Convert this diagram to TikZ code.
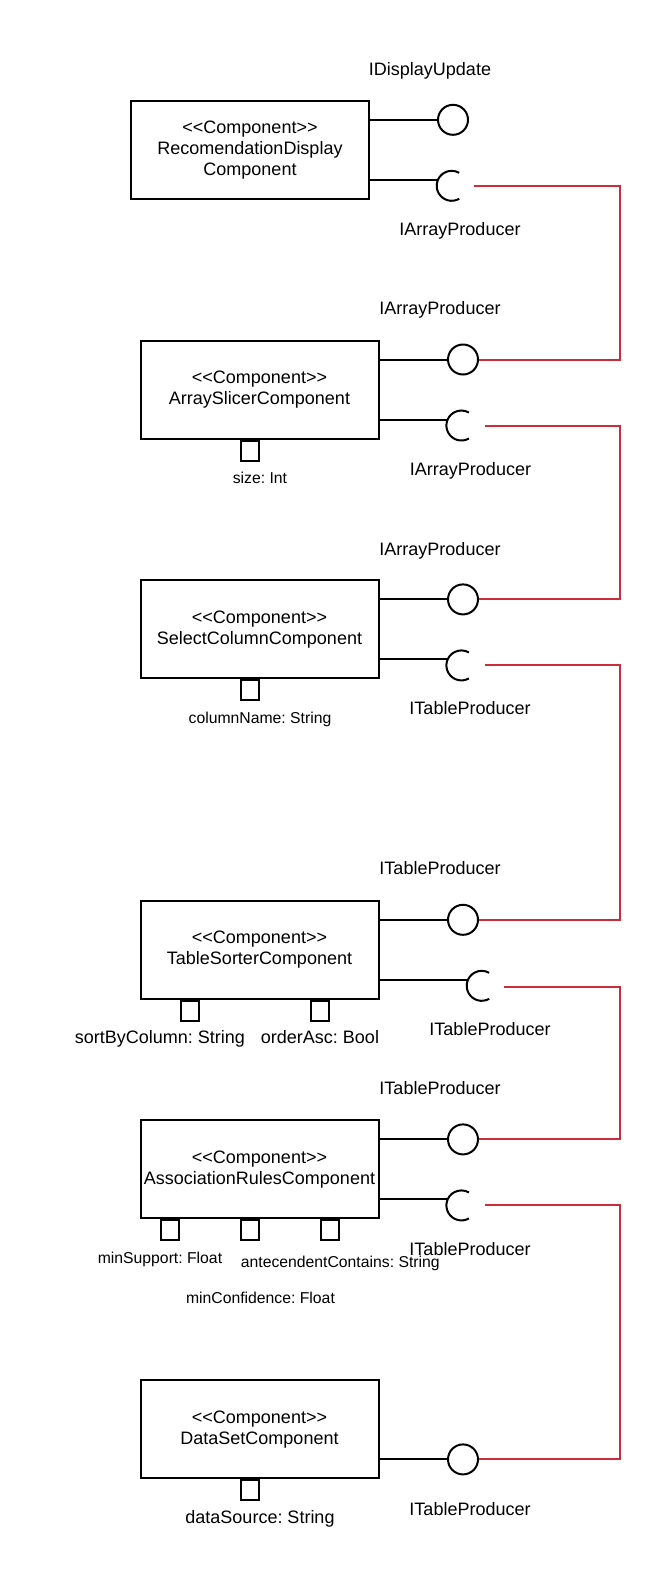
\documentclass[tikz,border=0pt]{standalone}
\usepackage{fontspec}
\setmainfont{Liberation Sans}
\definecolor{linkred}{RGB}{205,45,57}
\newcommand{\stereo}[1]{<{}<#1>{}>}
\begin{document}
\frenchspacing
\begin{tikzpicture}[x=1pt,y=-1pt,
  comp/.style={draw,line width=2pt,minimum width=238pt,minimum height=98pt,
    align=center,inner sep=0pt,font=\fontsize{18}{21}\selectfont},
  port/.style={draw,line width=2pt,minimum width=18pt,minimum height=20pt,inner sep=0pt,anchor=north},
  provided/.style={draw,circle,line width=2pt,minimum size=30pt,inner sep=0pt},
  lbl/.style={inner sep=0pt,text height=12.9pt,text depth=0pt,font=\fontsize{18}{21}\selectfont},
  small/.style={inner sep=0pt,text height=11.3pt,text depth=0pt,font=\fontsize{15.75}{18}\selectfont},
  wire/.style={line width=2pt},
  link/.style={line width=2pt,draw=linkred},
  socket/.style={line width=2pt},
]
\useasboundingbox (0,0) rectangle (661,1580);

% components
\node[comp] (b1) at (250,149.6)  {\stereo{Component}\\RecomendationDisplay\\Component};
\node[comp] (b2) at (259.5,389.5) {\stereo{Component}\\ArraySlicerComponent};
\node[comp] (b3) at (259.5,629.2) {\stereo{Component}\\SelectColumnComponent};
\node[comp] (b4) at (259.5,949.7) {\stereo{Component}\\TableSorterComponent};
\node[comp] (b5) at (259.5,1169.3) {\stereo{Component}\\AssociationRulesComponent};
\node[comp] (b6) at (259.5,1429.3) {\stereo{Component}\\DataSetComponent};

% parameter ports, hanging from the bottom edge
\node[port] (p2)  at (b2.south -| 250,0) {};
\node[port] (p3)  at (b3.south -| 250,0) {};
\node[port] (p4a) at (b4.south -| 190,0) {};
\node[port] (p4b) at (b4.south -| 320,0) {};
\node[port] (p5a) at (b5.south -| 170,0) {};
\node[port] (p5b) at (b5.south -| 250,0) {};
\node[port] (p5c) at (b5.south -| 330,0) {};
\node[port] (p6)  at (b6.south -| 250,0) {};

\node[small] (l2)  at (260,477.7) {size: Int};
\node[small] (l3)  at (260,717.4) {columnName: String};
\node[lbl]   (l4a) at (160,1036.7) {sortByColumn: String};
\node[lbl]   (l4b) at (320,1036.7) {orderAsc: Bool};
\node[small] (l5a) at (160,1258.3) {minSupport: Float};
\node[small] (l5c) at (340.3,1262.3) {antecendentContains: String};
\node[small] (l5b) at (260.5,1298.3) {minConfidence: Float};
\node[lbl]   (l6)  at (260,1516.7) {dataSource: String};

% provided interfaces (lollipops)
\node[provided] (c1) at (453,119.8) {};
\node[provided] (c2) at (463,359.5) {};
\node[provided] (c3) at (463,599.4) {};
\node[provided] (c4) at (463,919.8) {};
\node[provided] (c5) at (463,1139.4) {};
\node[provided] (c6) at (463,1459.4) {};

\foreach \b/\c in {b1/c1,b2/c2,b3/c3,b4/c4,b5/c5,b6/c6}
  \draw[wire] (\b.east |- \c) -- (\c);

% required interfaces (sockets)
\coordinate (s1) at (451.7,185.8);
\coordinate (s2) at (461.4,425.5);
\coordinate (s3) at (461.4,665.4);
\coordinate (s4) at (481.7,985.8);
\coordinate (s5) at (461.4,1205.4);

\foreach \b/\s in {b1/s1,b2/s2,b3/s3,b4/s4,b5/s5}{
  \draw[socket] ([shift={(60:15)}]\s) arc[start angle=60,end angle=300,radius=15];
  \coordinate (\s in) at ([shift={(-13.75,-6)}]\s);
  \draw[wire] (\b.east |- \s in) -- (\s in);
}

% assembly links
\coordinate (r1) at (474,186);
\coordinate (r2) at (485,425.5);
\coordinate (r3) at (485,665.4);
\coordinate (r4) at (504,987);
\coordinate (r5) at (485,1205.4);

\draw[link] (r1) -- (620,186) |- (c2.east);
\draw[link] (r2) -- (620,425.5) |- (c3.east);
\draw[link] (r3) -- (620,665.4) |- (c4.east);
\draw[link] (r4) -- (620,987) |- (c5.east);
\draw[link] (r5) -- (620,1205.4) |- (c6.east);

% interface names
\node[lbl] (i1)  at (430,69.5)   {IDisplayUpdate};
\node[lbl] (i2)  at (460,229)    {IArrayProducer};
\node[lbl] (i3)  at (440,308.5)  {IArrayProducer};
\node[lbl] (i4)  at (470.5,469)  {IArrayProducer};
\node[lbl] (i5)  at (440,549)    {IArrayProducer};
\node[lbl] (i6)  at (470,708.3)  {ITableProducer};
\node[lbl] (i7)  at (440,868.5)  {ITableProducer};
\node[lbl] (i8)  at (490,1029.3) {ITableProducer};
\node[lbl] (i9)  at (440,1088.2) {ITableProducer};
\node[lbl] (i10) at (470,1249)   {ITableProducer};
\node[lbl] (i11) at (470,1509)   {ITableProducer};
\end{tikzpicture}
\end{document}
